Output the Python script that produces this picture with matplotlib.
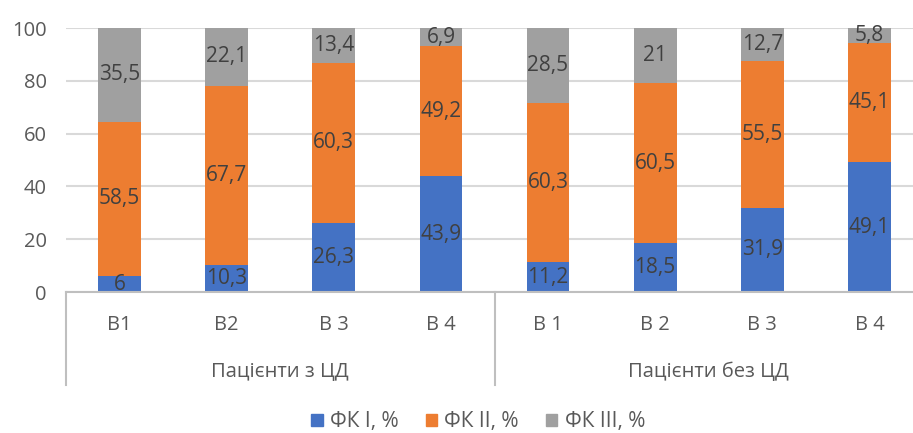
import matplotlib.pyplot as plt
from matplotlib.patches import Patch

plt.rcParams['font.family'] = ['Open Sans', 'DejaVu Sans']

groups = ["Пацієнти з ЦД", "Пацієнти без ЦД"]
categories = ["В1", "В2", "В 3", "В 4", "В 1", "В 2", "В 3", "В 4"]
fk1 = [6, 10.3, 26.3, 43.9, 11.2, 18.5, 31.9, 49.1]
fk2 = [58.5, 67.7, 60.3, 49.2, 60.3, 60.5, 55.5, 45.1]
fk3 = [35.5, 22.1, 13.4, 6.9, 28.5, 21, 12.7, 5.8]
series_names = ["ФК I, %", "ФК II, %", "ФК III, %"]
colors = ["#4472C4", "#ED7D31", "#A0A0A0"]

fig = plt.figure(figsize=(9.13, 4.33), dpi=100)
ax = fig.add_axes([66 / 913, 141 / 433, 857 / 913, 264 / 433])

x = list(range(len(categories)))
bottom = [0] * len(x)
for vals, col in zip([fk1, fk2, fk3], colors):
    ax.bar(x, vals, bottom=bottom, width=0.4, color=col, zorder=2)
    for xi, b, v in zip(x, bottom, vals):
        lbl = f"{v:g}".replace(".", ",")
        ax.text(xi, b + v / 2, lbl, ha="center", va="center",
                fontsize=15, color="#404040", zorder=3)
    bottom = [b + v for b, v in zip(bottom, vals)]

ax.set_xlim(-0.5, len(x) - 0.5)
ax.set_ylim(0, 100)
ax.set_yticks(range(0, 101, 20))
ax.tick_params(axis="y", length=0, pad=14, labelsize=14.5, labelcolor="#595959")
ax.set_xticks([])
ax.grid(axis="y", color="#D9D9D9", linewidth=1.5, zorder=0)
for s in ["top", "right", "left"]:
    ax.spines[s].set_visible(False)
ax.spines["bottom"].set_color("#BFBFBF")
ax.spines["bottom"].set_linewidth(1.5)

# two-level category axis
tr = ax.get_xaxis_transform()
for xi, c in zip(x, categories):
    ax.text(xi, -0.125, c, transform=tr, ha="center", va="center",
            fontsize=14.5, color="#595959")
n = len(categories) // len(groups)
for gi, g in enumerate(groups):
    ax.text(gi * n + (n - 1) / 2, -0.303, g, transform=tr, ha="center",
            va="center", fontsize=14.5, color="#595959")
for gx in range(0, len(categories) + 1, n):
    ax.plot([gx - 0.5, gx - 0.5], [0, -0.352], transform=tr, color="#BFBFBF",
            linewidth=1.5, clip_on=False)

handles = [Patch(color=c) for c in colors]
fig.legend(handles, series_names, loc="center", bbox_to_anchor=(0.5236, 0.026),
           ncol=3, frameon=False, fontsize=15, handlelength=0.55, handleheight=0.55,
           handletextpad=0.35, columnspacing=1.3, labelcolor="#595959")

plt.savefig("out.png", dpi=100)
